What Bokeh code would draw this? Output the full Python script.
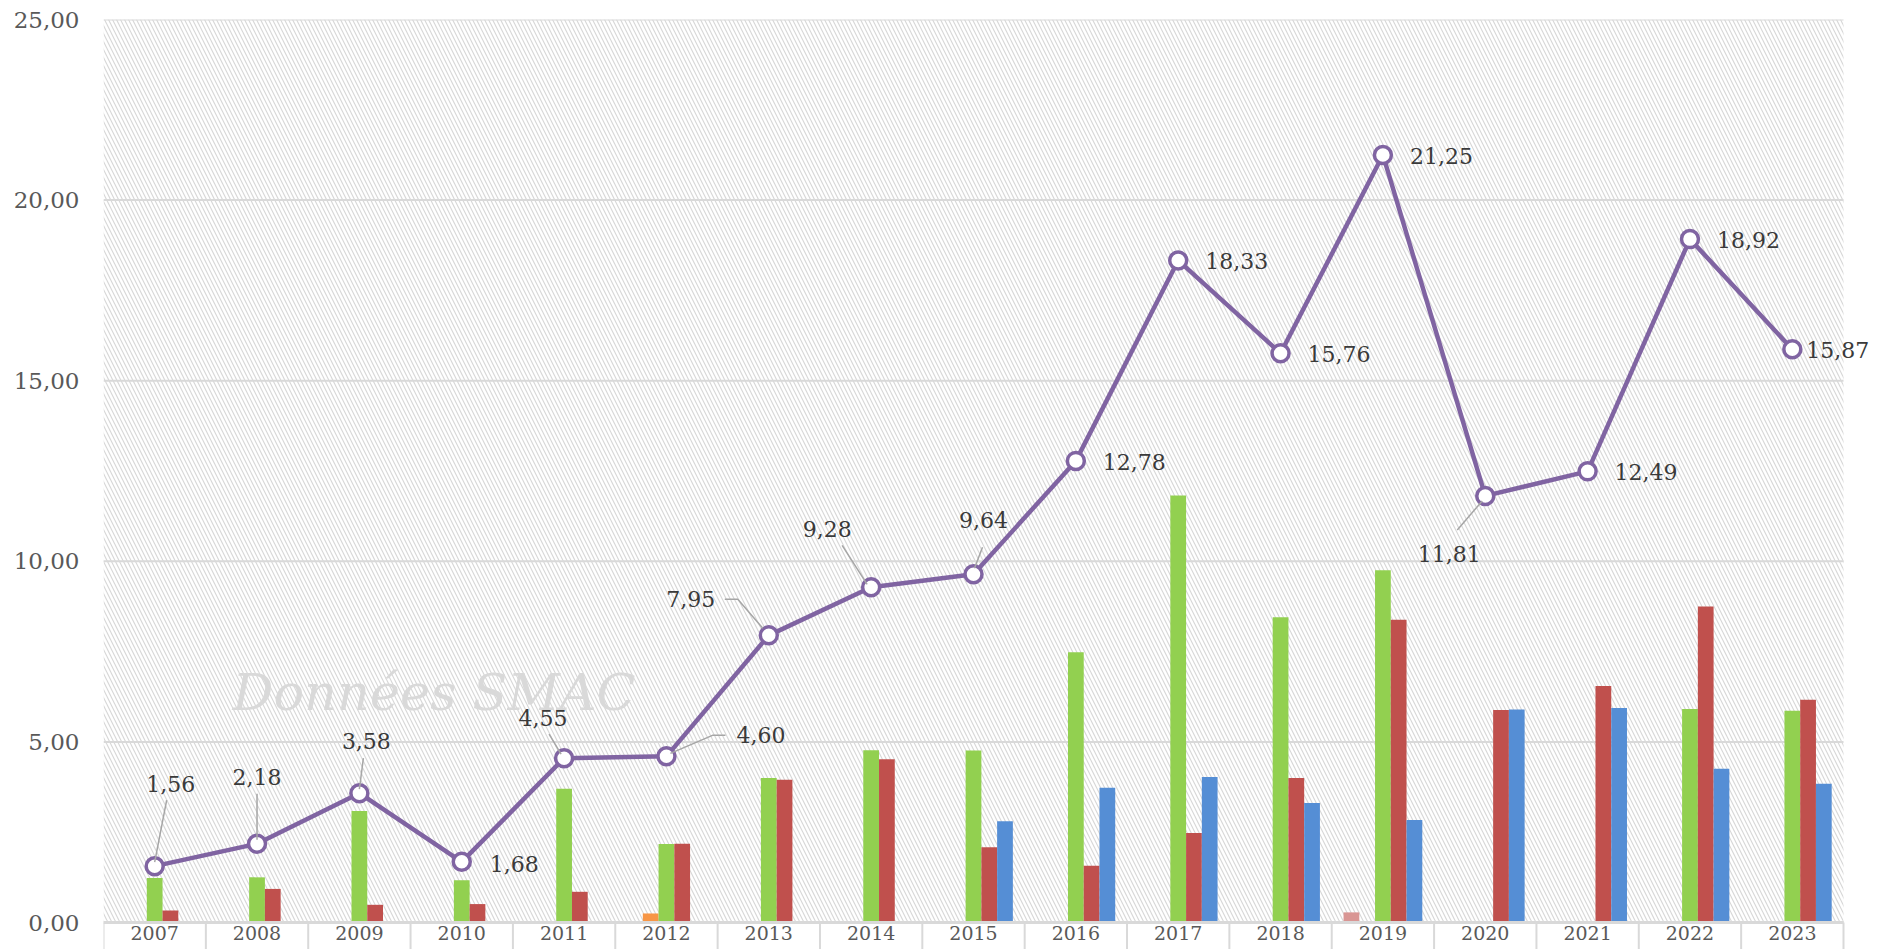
from bokeh.plotting import figure
from bokeh.models import (Range1d, ColumnDataSource, LabelSet, Label, BoxAnnotation,
                          FixedTicker)
from bokeh.core.properties import value
from bokeh.transform import dodge
from bokeh.embed import file_html
from bokeh.resources import INLINE

# ---------------- data ----------------
years = [2007, 2008, 2009, 2010, 2011, 2012, 2013, 2014, 2015,
         2016, 2017, 2018, 2019, 2020, 2021, 2022, 2023]
serie_rose = [0, 0, 0, 0, 0, 0, 0, 0, 0, 0, 0, 0, 0.28, 0, 0, 0, 0]
serie_orange = [0, 0, 0, 0, 0, 0.25, 0, 0, 0, 0, 0, 0, 0, 0.03, 0, 0, 0]
serie_vert = [1.23, 1.25, 3.09, 1.17, 3.70, 2.17, 4.00, 4.77, 4.76,
              7.48, 11.82, 8.45, 9.75, 0, 0, 5.91, 5.86]
serie_rouge = [0.33, 0.93, 0.49, 0.51, 0.85, 2.18, 3.95, 4.52, 2.08,
               1.57, 2.48, 4.00, 8.38, 5.88, 6.55, 8.75, 6.17]
serie_bleu = [0, 0, 0, 0, 0, 0, 0, 0, 2.80, 3.73, 4.03, 3.31, 2.84,
              5.90, 5.94, 4.26, 3.84]
total = [1.56, 2.18, 3.58, 1.68, 4.55, 4.60, 7.95, 9.28, 9.64,
         12.78, 18.33, 15.76, 21.25, 11.81, 12.49, 18.92, 15.87]
y_ticks = [0, 5, 10, 15, 20, 25]
watermark = "Données SMAC"

# ---------------- layout constants ----------------
CAT_W_PX = 1740
EXTRA_RIGHT_PX = 34
FRAME_H = 930
Y_TOP = 25.0
PX_PER_UNIT = 903 / 25.0
Y_BOTTOM = -27 / PX_PER_UNIT
PX_PER_CAT = CAT_W_PX / len(years)
X0 = years[0] - 0.5
X1 = years[-1] + 0.5

def fmt(v):
    return f"{v:.2f}".replace(".", ",")

FONT = value("DejaVu Serif")

# label placements in screen pixels relative to each point (dx, dy down), align, leader path
label_style = [
    ((16, -82), "center", [(0, -4), (12, -66)]),
    ((0, -67), "center", [(0, -4), (0, -50)]),
    ((7, -52), "center", [(0, -4), (4, -35)]),
    ((28, 2), "left", None),
    ((-21, -40), "center", [(-3, -4), (-15, -24)]),
    ((70, -21), "left", [(4, -3), (46, -21), (59, -21)]),
    ((-78, -36), "center", [(-6, -7), (-31, -36), (-44, -36)]),
    ((-44, -58), "center", [(-4, -3), (-29, -42)]),
    ((10, -54), "center", [(1, -6), (9, -27)]),
    ((27, 1), "left", None),
    ((27, 1), "left", None),
    ((27, 1), "left", None),
    ((27, 1), "left", None),
    ((-36, 58), "center", [(-3, 5), (-28, 34)]),
    ((27, 1), "left", None),
    ((27, 1), "left", None),
    ((14, 1), "left", None),
]

p = figure(frame_width=CAT_W_PX + EXTRA_RIGHT_PX, frame_height=FRAME_H,
           x_range=Range1d(X0, X1 + EXTRA_RIGHT_PX / PX_PER_CAT),
           y_range=Range1d(Y_BOTTOM, Y_TOP),
           min_border_left=103, min_border_right=0, min_border_top=19,
           min_border_bottom=0, output_backend="svg", toolbar_location=None)
p.outline_line_color = None
p.background_fill_color = "white"
p.border_fill_color = "white"
p.xaxis.visible = False
p.xgrid.visible = False
p.ygrid.visible = False

ax = p.yaxis[0]
ax.ticker = FixedTicker(ticks=y_ticks)
ax.major_label_overrides = {t: fmt(t) for t in y_ticks}
ax.axis_line_color = None
ax.major_tick_line_color = None
ax.minor_tick_line_color = None
ax.major_tick_out = 0
ax.minor_tick_out = 0
ax.major_label_standoff = 24
ax.major_label_text_font = "DejaVu Serif"
ax.major_label_text_font_size = "23px"
ax.major_label_text_color = "#595959"

# hatched background
p.add_layout(BoxAnnotation(left=X0, right=X1, bottom=0, top=Y_TOP,
                           fill_alpha=0, line_color=None, hatch_pattern="\\",
                           hatch_color="#d8d8d8", hatch_scale=8, hatch_weight=1.2,
                           level="image"))

# horizontal grid lines limited to the category area
p.segment(x0=[X0] * len(y_ticks), y0=y_ticks, x1=[X1] * len(y_ticks), y1=y_ticks,
          line_color="#d9d9d9", line_width=2)

# watermark
p.add_layout(Label(x=X0 + 129 / PX_PER_CAT, y=230 / PX_PER_UNIT, text=watermark,
                   text_font="DejaVu Serif", text_font_style="italic", text_font_size="51px",
                   text_color="#d9d9d9", text_baseline="alphabetic", level="underlay"))

# bars
src = ColumnDataSource(dict(year=years, rose=serie_rose, orange=serie_orange, vert=serie_vert,
                            rouge=serie_rouge, bleu=serie_bleu, total=total))
bw = 1 / 6.5
for k, (col, color) in enumerate([("rose", "#D99694"), ("orange", "#F79646"),
                                  ("vert", "#92D050"), ("rouge", "#C0504D"),
                                  ("bleu", "#558ED5")]):
    p.vbar(x=dodge("year", (k - 2) * bw), top=col, width=bw, bottom=0,
           fill_color=color, line_color=None, source=src)

# axis baseline and category separators
bounds = [y - 0.5 for y in years] + [X1]
p.segment(x0=bounds, y0=[0] * len(bounds), x1=bounds, y1=[Y_BOTTOM] * len(bounds),
          line_color="#d9d9d9", line_width=2)
p.segment(x0=[X0], y0=[0], x1=[X1], y1=[0], line_color="#d9d9d9", line_width=3)

# total line
p.line("year", "total", source=src, line_color="#8064A2", line_width=4.5)
p.scatter("year", "total", source=src, size=17, marker="circle", fill_color="white",
          line_color="#8064A2", line_width=3.5)

# leader lines
lx, ly = [], []
for yr, v, (off, al, path) in zip(years, total, label_style):
    if path:
        lx.append([yr + dx / PX_PER_CAT for dx, dy in path])
        ly.append([v - dy / PX_PER_UNIT for dx, dy in path])
p.multi_line(xs=lx, ys=ly, line_color="#a6a6a6", line_width=1.5)

# data labels
groups = {"center": dict(x=[], y=[], t=[]), "left": dict(x=[], y=[], t=[])}
for yr, v, (off, al, path) in zip(years, total, label_style):
    g = groups[al]
    g["x"].append(yr + off[0] / PX_PER_CAT)
    g["y"].append(v - off[1] / PX_PER_UNIT)
    g["t"].append(fmt(v))
for al, g in groups.items():
    s = ColumnDataSource(dict(x=g["x"], y=g["y"], t=g["t"]))
    p.add_layout(LabelSet(x="x", y="y", text="t", source=s, text_align=al,
                          text_baseline="middle", text_font=FONT,
                          text_font_size="22px", text_color="#3a3a3a"))

# category labels (kept fully inside the page)
ysrc = ColumnDataSource(dict(x=years, y=[-3 / PX_PER_UNIT] * len(years),
                             t=[str(y) for y in years]))
p.add_layout(LabelSet(x="x", y="y", text="t", source=ysrc, text_align="center",
                      text_baseline="top", text_font=FONT,
                      text_font_size="19px", text_color="#595959"))

open("out.html", "w").write(file_html(p, INLINE))
